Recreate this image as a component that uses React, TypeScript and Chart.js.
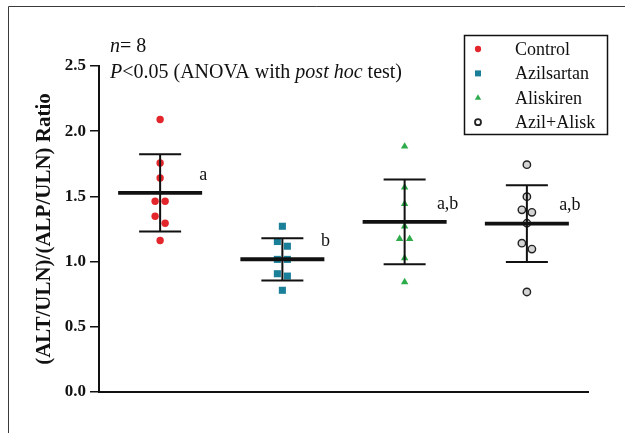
import React, { useEffect, useRef } from 'react';
import { Chart, registerables } from 'chart.js';

Chart.register(...registerables);

// ---- data ----
const categories = ['Control', 'Azilsartan', 'Aliskiren', 'Azil+Alisk'];
const controlValues = [2.09, 1.756, 1.641, 1.463, 1.463, 1.348, 1.294, 1.162];
const azilsartanValues = [1.271, 1.154, 1.118, 1.017, 1.017, 0.907, 0.889, 0.78];
const aliskirenValues = [1.883, 1.57, 1.443, 1.271, 1.175, 1.175, 1.027, 0.843];
const combinedValues = [1.743, 1.498, 1.397, 1.378, 1.294, 1.141, 1.096, 0.767];
const groupMeans = [1.527, 1.018, 1.305, 1.291];
const groupSDs = [0.297, 0.162, 0.325, 0.295];
const sigLabels = ['a', 'b', 'a,b', 'a,b'];
const yTicks = [0, 0.5, 1.0, 1.5, 2.0, 2.5];
const sampleSize = 8;

const SERIF = '"Liberation Serif", "Times New Roman", serif';
const JIT = 0.041;

function swarm(values: number[], center: number) {
  const sorted = [...values].sort((a, b) => b - a);
  const out: { x: number; y: number }[] = [];
  let i = 0;
  while (i < sorted.length) {
    if (i + 1 < sorted.length && sorted[i] - sorted[i + 1] < 0.06) {
      out.push({ x: center - JIT, y: sorted[i] }, { x: center + JIT, y: sorted[i + 1] });
      i += 2;
    } else {
      out.push({ x: center, y: sorted[i] });
      i += 1;
    }
  }
  return out;
}

const seriesValues = [controlValues, azilsartanValues, aliskirenValues, combinedValues];
const styles = [
  { pointStyle: 'circle', bg: '#e3262b', border: '#e3262b', radius: 3.7, bw: 0 },
  { pointStyle: 'rect', bg: '#1a7f99', border: '#1a7f99', radius: 5, bw: 0 },
  { pointStyle: 'triangle', bg: '#2eab4a', border: '#2eab4a', radius: 4.3, bw: 0 },
  { pointStyle: 'circle', bg: '#d4d4d4', border: '#222222', radius: 3.7, bw: 1.4 },
];

function drawMarker(ctx: CanvasRenderingContext2D, style: string, x: number, y: number, r: number, bg: string, border: string, bw: number) {
  ctx.save();
  ctx.beginPath();
  if (style === 'rect') {
    const s = Math.SQRT1_2 * r;
    ctx.rect(x - s, y - s, 2 * s, 2 * s);
  } else if (style === 'triangle') {
    ctx.moveTo(x, y - r);
    ctx.lineTo(x + Math.sin((2 * Math.PI) / 3) * r, y + r / 2);
    ctx.lineTo(x - Math.sin((2 * Math.PI) / 3) * r, y + r / 2);
    ctx.closePath();
  } else {
    ctx.arc(x, y, r, 0, Math.PI * 2);
  }
  ctx.fillStyle = bg;
  ctx.fill();
  if (bw > 0) {
    ctx.lineWidth = bw;
    ctx.strokeStyle = border;
    ctx.stroke();
  }
  ctx.restore();
}

const framePlugin = {
  id: 'frame',
  beforeDraw(chart: any) {
    const ctx = chart.ctx;
    ctx.save();
    ctx.strokeStyle = '#3a3a3a';
    ctx.lineWidth = 1;
    ctx.beginPath();
    ctx.moveTo(8.5, 433);
    ctx.lineTo(8.5, 6.5);
    ctx.lineTo(625, 6.5);
    ctx.stroke();
    ctx.restore();
  },
};

const errorBarPlugin = {
  id: 'errorBars',
  afterDatasetsDraw(chart: any) {
    const ctx = chart.ctx;
    const xs = chart.scales.x;
    const ys = chart.scales.y;
    ctx.save();
    ctx.strokeStyle = '#111';
    groupMeans.forEach((m, i) => {
      const cx = xs.getPixelForValue(i + 1);
      const ym = ys.getPixelForValue(m);
      const yu = ys.getPixelForValue(m + groupSDs[i]);
      const yl = ys.getPixelForValue(m - groupSDs[i]);
      ctx.lineWidth = 2;
      ctx.beginPath();
      ctx.moveTo(cx, yu);
      ctx.lineTo(cx, yl);
      ctx.moveTo(cx - 21, yu);
      ctx.lineTo(cx + 21, yu);
      ctx.moveTo(cx - 21, yl);
      ctx.lineTo(cx + 21, yl);
      ctx.stroke();
      ctx.lineWidth = 3.8;
      ctx.beginPath();
      ctx.moveTo(cx - 42, ym);
      ctx.lineTo(cx + 42, ym);
      ctx.stroke();
      ctx.fillStyle = '#111';
      ctx.font = `18px ${SERIF}`;
      ctx.textAlign = 'center';
      ctx.textBaseline = 'middle';
      ctx.fillText(sigLabels[i], cx + 43, ym - 18);
    });
    ctx.restore();
  },
};

const legendPlugin = {
  id: 'customLegend',
  afterDraw(chart: any) {
    const ctx = chart.ctx;
    ctx.save();
    ctx.strokeStyle = '#111';
    ctx.lineWidth = 1.5;
    ctx.strokeRect(464.5, 35.5, 143, 99);
    ctx.font = `18px ${SERIF}`;
    ctx.fillStyle = '#111';
    ctx.textAlign = 'left';
    ctx.textBaseline = 'middle';
    categories.forEach((c, i) => {
      const y = 49 + i * 24.4;
      const s = styles[i];
      const r = i === 3 ? 3 : s.radius * 0.85;
      drawMarker(ctx, s.pointStyle, 478, y, r, i === 3 ? '#ffffff' : s.bg, s.border, i === 3 ? 1.8 : 0);
      ctx.fillText(c, 515, y + 1);
    });
    ctx.restore();
  },
};

const notePlugin = {
  id: 'note',
  afterDraw(chart: any) {
    const ctx = chart.ctx;
    ctx.save();
    ctx.fillStyle = '#111';
    ctx.textAlign = 'left';
    ctx.textBaseline = 'middle';
    const italic = `italic 20px ${SERIF}`;
    const normal = `20px ${SERIF}`;
    const parts1: [string, string][] = [['n', italic], [`= ${sampleSize}`, normal]];
    const parts2: [string, string][] = [
      ['P', italic],
      ['<0.05 (ANOVA with ', normal],
      ['post hoc', italic],
      [' test)', normal],
    ];
    const drawLine = (parts: [string, string][], x: number, y: number) => {
      let cx = x;
      parts.forEach(([t, f]) => {
        ctx.font = f;
        ctx.fillText(t, cx, y);
        cx += ctx.measureText(t).width;
      });
    };
    drawLine(parts1, 110, 47);
    drawLine(parts2, 110, 73);
    ctx.restore();
  },
};

export default function App() {
  const ref = useRef<HTMLCanvasElement | null>(null);
  useEffect(() => {
    document.body.style.margin = '0';
    const canvas = ref.current;
    if (!canvas) return;
    const datasets = categories.map((c, i) => ({
      label: c,
      data: swarm(seriesValues[i], i + 1),
      pointStyle: styles[i].pointStyle as any,
      pointRadius: styles[i].radius,
      pointHoverRadius: styles[i].radius,
      backgroundColor: styles[i].bg,
      borderColor: styles[i].border,
      pointBorderWidth: styles[i].bw,
      borderWidth: styles[i].bw,
    }));
    const chart = new Chart(canvas, {
      type: 'scatter',
      data: { datasets },
      options: {
        responsive: false,
        animation: false,
        devicePixelRatio: 1,
        layout: { padding: { left: 0, top: 66, right: 37, bottom: 41 } },
        plugins: { legend: { display: false }, tooltip: { enabled: false } },
        scales: {
          x: {
            type: 'linear',
            min: 0.5,
            max: 4.5,
            ticks: { display: false },
            grid: { display: false, drawTicks: false },
            border: { display: true, color: '#111', width: 2 },
            afterFit: (s: any) => {
              s.height = 0;
            },
          },
          y: {
            type: 'linear',
            min: 0,
            max: 2.5,
            afterBuildTicks: (s: any) => {
              s.ticks = yTicks.map((v) => ({ value: v }));
            },
            ticks: {
              color: '#111',
              padding: 4,
              font: { family: SERIF, size: 17, weight: 'bold' },
              callback: (v: any) => Number(v).toFixed(1),
            },
            grid: {
              display: true,
              drawOnChartArea: false,
              drawTicks: true,
              tickLength: 9,
              color: '#111',
              lineWidth: 1.5,
            },
            border: { display: true, color: '#111', width: 2 },
            title: {
              display: true,
              text: '(ALT/ULN)/(ALP/ULN) Ratio',
              color: '#111',
              font: { family: SERIF, size: 21, weight: 'bold' },
              padding: { top: 32, bottom: 0 },
            },
            afterFit: (s: any) => {
              s.width = 99;
            },
          },
        },
      },
      plugins: [framePlugin, errorBarPlugin, legendPlugin, notePlugin],
    });
    return () => chart.destroy();
  }, []);
  return (
    <div style={{ width: 625, height: 433, background: '#fff' }}>
      <canvas ref={ref} width={625} height={433} style={{ display: 'block' }} />
    </div>
  );
}
